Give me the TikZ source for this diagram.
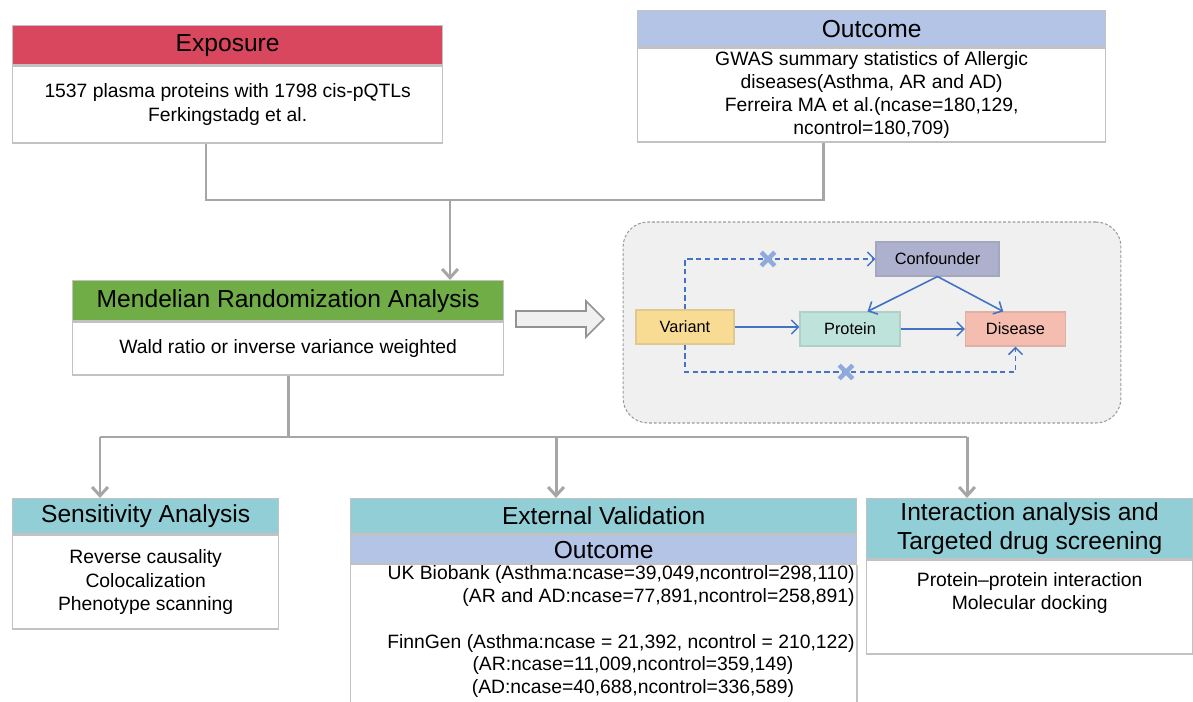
\documentclass[tikz,border=0pt]{standalone}
\usepackage{fontspec}
\setmainfont{Liberation Sans}
\usetikzlibrary{positioning,arrows.meta,shapes.misc}

\definecolor{expred}{HTML}{D9475E}
\definecolor{outblue}{HTML}{B4C4E6}
\definecolor{mrgreen}{HTML}{70AD47}
\definecolor{headteal}{HTML}{92CED6}
\definecolor{boxgray}{HTML}{C2C2C2}
\definecolor{linkgray}{HTML}{A6A6A6}
\definecolor{arrowblue}{HTML}{4472C4}
\definecolor{crossblue}{HTML}{8FAADC}
\definecolor{panelgray}{HTML}{F0F0F0}
\definecolor{panelline}{HTML}{9A9A9A}
\definecolor{confcol}{HTML}{ADB1CD}
\definecolor{varcol}{HTML}{F8DC93}
\definecolor{protcol}{HTML}{BDE3DB}
\definecolor{discol}{HTML}{F5BDAF}

\tikzset{
  headbox/.style={draw=boxgray, line width=0.8pt, inner sep=0pt, align=center,
    font=\fontsize{14}{17}\selectfont},
  bodybox/.style={draw=boxgray, line width=0.8pt, fill=white, inner sep=0pt,
    align=center, font=\fontsize{11}{13.2}\selectfont},
  bodytext/.style={inner sep=0pt, font=\fontsize{11}{12.8}\selectfont},
  link/.style={draw=linkgray, line width=1.7pt},
  linkarrow/.style={link, -{Straight Barb[length=5pt,width=9pt]}},
  cell/.style={fill=#1, draw=#1!80!gray, line width=0.6pt, minimum height=0.68cm,
    inner sep=0pt, font=\fontsize{9.3}{11}\selectfont},
  flow/.style={draw=arrowblue, line width=0.9pt, -{Straight Barb[length=4pt,width=8pt]}},
  blocked/.style={flow, dash pattern=on 3pt off 2pt},
  xmark/.style={cross out, draw=crossblue, line width=2.6pt, minimum size=0.18cm,
    inner sep=0pt}
}

\begin{document}
\begin{tikzpicture}[x=0.02cm, y=-0.02cm]
  \useasboundingbox (0,0) rectangle (1193,702);

  % Exposure
  \node[headbox, fill=expred, anchor=north west, minimum width=8.6cm,
    minimum height=0.78cm] (exphead) at (12,25) {Exposure};
  \node[bodybox, below=0pt of exphead, minimum width=8.6cm, minimum height=1.54cm]
    (expbody) {1537 plasma proteins with 1798 cis-pQTLs\\Ferkingstadg et al.};

  % Outcome
  \node[headbox, fill=outblue, anchor=north west, minimum width=9.36cm,
    minimum height=0.72cm] (outhead) at (637,10) {Outcome};
  \node[bodybox, below=0pt of outhead, minimum width=9.36cm, minimum height=1.88cm]
    (outbody) {GWAS summary statistics of Allergic\\diseases(Asthma, AR and AD)\\
    Ferreira MA et al.(ncase=180,129,\\ncontrol=180,709)};

  % Mendelian randomization
  \node[headbox, fill=mrgreen, anchor=north west, minimum width=8.62cm,
    minimum height=0.8cm] (mrhead) at (72,280) {Mendelian Randomization Analysis};
  \node[bodybox, below=0pt of mrhead, minimum width=8.62cm, minimum height=1.06cm]
    (mrbody) {Wald ratio or inverse variance weighted};

  % Joining lines at the top
  \coordinate (jl) at (206,200);
  \coordinate (jr) at (823,200);
  \coordinate (jm) at (450,200);
  \draw[link] (jl |- expbody.south) -- (jl) -- (jr) -- (jr |- outbody.south);
  \draw[linkarrow] (jm) -- (jm |- mrhead.north);

  % Hollow arrow to the causal sketch
  \draw[draw=gray!85, fill=panelgray, line width=0.9pt]
    (516,311) -- (586,311) -- (586,301) -- (604,319) -- (586,337) -- (586,327)
    -- (516,327) -- cycle;

  % Causal sketch
  \node[draw=panelline, fill=panelgray, rounded corners=0.5cm, line width=0.6pt,
    dash pattern=on 1.6pt off 1.1pt, minimum width=9.96cm, minimum height=4.02cm]
    (panel) at (872,322.5) {};
  \node[cell=confcol, minimum width=2.46cm] (conf) at (937.5,259) {Confounder};
  \node[cell=varcol, minimum width=1.96cm] (variant) at (685,327) {Variant};
  \node[cell=protcol, minimum width=2cm] (protein) at (850,329) {Protein};
  \node[cell=discol, minimum width=2cm] (disease) at (1015.5,329) {Disease};
  \draw[flow] (variant.east) -- (variant.east -| protein.west);
  \draw[flow] (protein.east) -- (disease.west);
  \draw[flow] (conf.south) -- (protein.45);
  \draw[flow] (conf.south) -- (disease.125);
  % blocked paths
  \coordinate (lowpath) at (0,372);
  \draw[blocked] (variant.north) |- (conf.west);
  \draw[blocked] (variant.south) -- (variant.south |- lowpath) -| (disease.south);
  \node[xmark] (xtop) at (768,259) {};
  \node[xmark] (xlow) at (846,372) {};

  % Sensitivity analysis
  \node[headbox, fill=headteal, anchor=north west, minimum width=5.32cm,
    minimum height=0.7cm] (senshead) at (12,498) {Sensitivity Analysis};
  \node[bodybox, below=0pt of senshead, minimum width=5.32cm, minimum height=1.88cm]
    (sensbody) {Reverse causality\\Colocalization\\Phenotype scanning};

  % External validation
  \node[headbox, fill=headteal, anchor=north west, minimum width=10.12cm,
    minimum height=0.7cm] (exthead) at (350,498) {External Validation};
  \node[headbox, fill=outblue, below=0pt of exthead, minimum width=10.12cm,
    minimum height=0.58cm] (extsub) {Outcome};
  \node[fill=white, below=0pt of extsub, minimum width=10.12cm, minimum height=2.8cm,
    inner sep=0pt] (extbody) {};
  \draw[draw=boxgray, line width=0.8pt] (extbody.north west) -- (extbody.south west);
  \draw[draw=boxgray, line width=0.8pt] (extbody.north east) -- (extbody.south east);
  \node[bodytext, align=right, anchor=east] (ukbb) at (855,586)
    {UK Biobank (Asthma:ncase=39,049,ncontrol=298,110)\\
     (AR and AD:ncase=77,891,ncontrol=258,891)};
  \node[bodytext, anchor=east] (finn) at (855,643)
    {FinnGen (Asthma:ncase = 21,392, ncontrol = 210,122)};
  \node[bodytext, align=center] (finnsub) at (633,677)
    {(AR:ncase=11,009,ncontrol=359,149)\\(AD:ncase=40,688,ncontrol=336,589)};

  % Interaction analysis
  \node[headbox, fill=headteal, anchor=north west, minimum width=6.52cm,
    minimum height=1.2cm] (inthead) at (866,498)
    {Interaction analysis and\\Targeted drug screening};
  \node[bodybox, below=0pt of inthead, minimum width=6.52cm, minimum height=1.88cm]
    (intbody) {};
  \node[bodytext, align=center, below=0.26cm of intbody.north] (inttext)
    {Protein–protein interaction\\Molecular docking};

  % Branching lines at the bottom
  \coordinate (dsens) at (100,437);
  \coordinate (dext) at (556,437);
  \coordinate (dint) at (967,437);
  \draw[link] (mrbody.south) -- (mrbody.south |- dsens);
  \draw[link] (dsens) -- (dint);
  \foreach \d/\n in {dsens/senshead, dext/exthead, dint/inthead} {
    \draw[linkarrow] (\d) -- (\d |- \n.north);
  }
\end{tikzpicture}
\end{document}
